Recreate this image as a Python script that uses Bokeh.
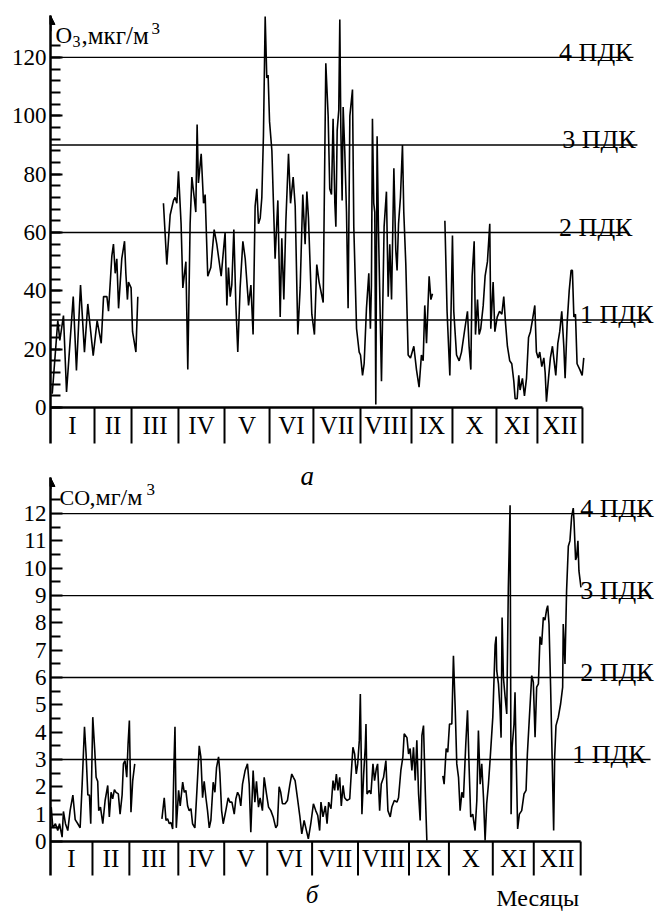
import math
from bokeh.plotting import figure
from bokeh.layouts import column
from bokeh.models import Range1d, FixedTicker, Arrow, NormalHead
from bokeh.core.properties import value
from bokeh.embed import file_html
from bokeh.resources import INLINE

NaN = float("nan")
FONT = "Liberation Serif"

# ---------------- data ----------------
months = ["I", "II", "III", "IV", "V", "VI", "VII", "VIII", "IX", "X", "XI", "XII"]
# month boundaries (day of year) as drawn under each panel
o3_month_edges = [0, 30.2, 55.6, 87.8, 119.4, 150.3, 180.4, 212.7, 247.7, 275.8, 306.0, 334.1, 365.0]
co_month_edges = [0, 28.9, 54.3, 88.0, 119.6, 149.2, 180.1, 211.7, 246.8, 274.3, 304.5, 332.7, 365.0]

pdk_labels = ["1 ПДК", "2 ПДК", "3 ПДК", "4 ПДК"]
o3_levels = [30, 60, 90, 120]
co_levels = [3, 6, 9, 12]

o3_ticks = [0, 20, 40, 60, 80, 100, 120]
o3_minor = [0, 4, 8, 12, 16, 20, 24, 28, 32, 36, 40, 44, 48, 52, 56, 60, 64, 68, 72, 76,
            80, 84, 88, 92, 96, 100, 104, 108, 112, 116, 120, 124]
co_ticks = [0, 1, 2, 3, 4, 5, 6, 7, 8, 9, 10, 11, 12]
co_minor = [0.5, 1.5, 2.5, 3.5, 4.5, 5.5, 6.5, 7.5, 8.5, 9.5, 10.5, 11.5, 12.5]

o3_day = [1.2, 5.0, 6.4, 8.9, 11.0, 15.6, 17.8, 20.6, 23.3, 25.6, 29.3, 32.0, 34.8, 36.4, 38.7,
          39.8, 42.1, 43.2, 44.4, 45.5, 46.7, 48.9, 50.8, 51.7, 52.8, 53.5, 55.3, 56.3, 58.6, 59.9,
          NaN,
          77.5, 79.8, 82.1, 84.4, 85.5, 86.7, 87.8, 89.6, 90.8, 92.9, 94.2, 95.8, 97.0, 98.6, 99.7,
          100.6, 101.5, 103.4, 105.0, 106.1, 107.9, 110.0, 112.3, 114.1, 117.1, 118.7, 119.8, 121.0,
          122.1, 123.3, 124.4, 125.8, 127.2, 128.5, 130.1, 132.0, 133.6, 135.9, 137.5, 139.0, 140.4,
          141.6, 142.7, 143.9, 145.0, 146.1, 147.3, 148.4, 149.3, 150.3, 151.9, 154.1, 156.0, 157.6,
          158.7, 160.1, 161.5, 163.3, 164.7, 166.5, 167.9, 169.7, 171.3, 173.1, 174.7, 175.9, 177.0,
          179.3, 181.1, 182.7, 184.3, 187.1, 188.9, 190.5, 191.6, 192.8, 193.9, 195.1, 195.8, 196.7,
          197.8, 198.5, 199.2, 200.1, 200.8, 201.9, 203.1, 204.2, 205.4, 207.2, 208.1, 210.0, 211.8,
          212.7, 214.1, 215.2, 216.8, 218.4, 219.5, 220.2, 220.9, 221.8, 222.5, 223.2, 224.1, 225.0,
          227.1, 228.9, 230.5, 231.7, 232.8, 234.0, 235.6, 236.9, 237.8, 238.8, 240.1, 241.5, 242.4,
          243.8, 245.4, 247.0, 249.3, 251.1, 252.9, 254.5, 255.7, 256.8, 258.0, 259.8, 261.0, 262.1,
          NaN,
          270.6, 272.1, 274.0, 275.8, 276.7, 278.6, 280.4, 282.0, 284.3, 286.1, 287.2, 288.4, 289.3,
          290.7, 291.6, 293.0, 294.1, 295.2, 296.9, 298.2, 299.8, 301.4, 302.1, 303.7, 304.9, 306.5,
          308.1, 309.7, 311.0, 312.2, 313.5, 315.1, 316.5, 317.9, 318.8, 320.2, 321.3, 322.2, 323.8,
          325.2, 326.6, 328.0, 329.3, 330.7, 332.3, 333.4, 334.6, 335.7, 337.1, 338.5, 339.4, 340.3,
          341.7, 343.0, 344.4, 345.3, 346.7, 348.1, 349.4, 350.8, 352.2, 353.1, 354.5, 355.9, 357.2,
          358.1, 359.1, 360.2, 361.3, 363.2, 364.8, 365.9]
o3_val = [4.7, 29.8, 23, 31.5, 5.3, 38, 12.7, 42, 19, 35.5, 17.8, 29.8, 22, 38, 38,
          33, 52, 56, 46, 51, 34, 51, 57, 46, 37, 43, 41, 26, 19, 38,
          NaN,
          70, 49, 66, 71, 72, 70, 81, 63, 41, 50, 13, 63, 79, 72, 67,
          97, 77, 87, 70, 73, 45, 48, 61, 56, 45, 54, 60, 35,
          48, 38, 42, 61, 35, 19, 41, 57, 51, 35, 42, 25, 69,
          75, 63, 65, 72, 93, 134, 113, 114, 98, 88, 51, 71, 31,
          58, 37, 64, 87, 70, 79, 69, 25, 41, 73, 56, 74, 65,
          32, 25, 49, 43, 36, 118, 100, 75, 73, 99, 70, 62, 95,
          102, 133, 96, 71, 103, 88, 67, 34, 100, 109, 62, 27, 19,
          18, 11, 15, 34, 46, 27, 42, 99, 70, 67, 1, 93, 62,
          9, 62, 74, 38, 56, 37, 82, 54, 47, 63, 72, 90, 67,
          49, 18, 17, 21, 13, 7, 18, 16, 35, 22, 45, 37, 39,
          NaN,
          64, 33, 11, 59, 33, 18, 16, 19, 27, 33, 21, 13, 45,
          57, 25, 37, 25, 27, 35, 45, 50, 63, 27, 43, 26, 31,
          33, 32, 38, 29, 21, 16, 15, 9, 3, 3, 11, 6, 10,
          4, 10, 24, 26, 30, 35, 19, 17, 19, 14, 17, 12, 2,
          10, 17, 21, 17, 11, 22, 26, 33, 21, 10, 29, 40, 47,
          47, 31, 32, 15, 13, 11, 17]

co_day = [0.5, 1.6, 3.4, 5.0, 6.2, 8.0, 8.9, 10.3, 11.9, 13.5, 15.4, 17.0, 18.8, 20.4, 21.8,
          23.4, 24.5, 25.7, 26.8, 27.7, 29.1, 30.5, 31.4, 32.5, 33.2, 34.4, 36.0, 37.6, 39.4, 40.5,
          41.7, 42.8, 44.0, 45.1, 46.7, 47.9, 49.3, 50.2, 51.3, 52.5, 53.4, 54.3, 55.4, 56.6, 58.0,
          NaN,
          76.7, 78.3, 79.5, 80.6, 81.8, 82.9, 84.1, 85.0, 85.7, 86.6, 88.2, 89.3, 91.0, 92.1, 93.2,
          94.4, 95.5, 96.7, 97.8, 99.4, 100.8, 102.4, 103.5, 104.7, 105.8, 107.0, 108.1, 109.3, 110.4,
          112.0, 113.2, 114.3, 115.7, 116.6, 117.8, 118.9, 120.7, 122.3, 123.5, 124.9, 126.5, 127.6,
          128.8, 129.9, 131.0, 132.2, 134.0, 135.6, 136.8, 137.9, 139.5, 140.7, 141.8, 143.2, 144.3,
          145.9, 147.1, 148.7, 150.1, 151.7, 153.3, 155.1, 156.2, 157.4, 158.5, 159.7, 161.5, 163.1,
          164.7, 166.1, 167.2, 168.4, 170.0, 171.6, 173.0, 174.6, 176.2, 177.5, 179.2, 181.0, 182.6,
          184.0, 185.3, 186.2, 187.6, 189.2, 190.4, 191.5, 193.1, 194.5, 195.6, 196.8, 197.9, 199.1,
          200.2, 201.4, 202.5, 204.1, 206.0, 206.9, 208.2, 209.4, 210.5, 211.5, 212.6, 213.3, 214.0,
          214.4, 215.6, 216.7, 217.2, 217.9, 219.5, 220.6, 222.0, 223.1, 224.3, 225.2, 226.6, 227.7,
          229.3, 230.9, 232.3, 233.9, 235.0, 236.7, 238.5, 239.6, 241.2, 242.6, 243.5, 245.4, 246.5,
          247.6, 248.8, 249.9, 251.1, 252.2, 253.4, 254.5, 255.7, 256.8, 258.0, 259.1,
          NaN,
          270.1, 271.0, 272.4, 273.5, 274.7, 276.3, 277.4, 278.6, 279.7, 280.9, 282.0, 283.2, 284.3,
          285.9, 287.1, 288.2, 289.3, 290.7, 292.3, 293.5, 294.6, 295.8, 296.9, 298.1, 299.2, 300.3,
          301.5, 302.6, 304.5, 306.1, 306.8, 307.2, 308.4, 309.5, 310.2, 310.9, 311.8, 313.0, 314.1,
          315.2, 316.4, 317.1, 317.8, 319.1, 319.8, 320.5, 321.6, 322.8, 324.4, 326.0, 327.4, 328.3,
          329.7, 331.3, 332.4, 333.6, 334.7, 335.9, 337.0, 338.1, 339.3, 340.4, 341.6, 342.3, 343.2,
          344.3, 345.5, 346.4, 347.1, 348.0, 349.6, 351.2, 352.6, 353.0, 354.2, 355.3, 356.5, 357.6,
          358.8, 359.9, 360.4, 361.5, 362.2, 363.1, 363.8, 365.2]
co_val = [1.26, 0.5, 0.65, 0.4, 0.65, 0.16, 1.1, 0.65, 0.4, 1.13, 1.7, 0.8, 0.65, 0.5, 2.1,
          4.2, 3.2, 1.7, 1.7, 0.65, 4.55, 3.3, 2.35, 2.2, 1.13, 1.26, 0.65, 1.5, 2.05, 0.9,
          1.8, 1.56, 1.9, 1.8, 1.74, 1.0, 1.7, 2.84, 2.96, 2.35, 3.57, 4.43, 1.07, 2.23, 2.84,
          NaN,
          0.83, 1.6, 0.77, 0.83, 0.65, 0.7, 0.46, 2.84, 4.2, 0.5, 1.87, 1.3, 2.17, 1.8, 1.87,
          1.3, 1.13, 1.2, 0.65, 0.5, 1.87, 3.5, 3.1, 1.6, 2.2, 1.6, 1.13, 0.5, 0.77,
          2.17, 1.8, 2.7, 3.1, 2.5, 1.13, 0.65, 1.13, 1.6, 1.44, 1.44, 1.0, 1.56,
          1.8, 1.68, 1.3, 2.1, 2.6, 2.84, 2.1, 0.34, 2.6, 1.44, 2.2, 1.26, 1.6,
          1.13, 2.35, 1.74, 1.26, 1.13, 0.9, 0.5, 0.6, 2.0, 1.8, 1.38, 1.38, 1.5,
          2.05, 2.47, 2.35, 2.23, 1.6, 0.95, 0.28, 0.77, 0.4, 0.1, 0.65, 1.38, 1.13,
          0.95, 0.4, 1.44, 0.9, 1.3, 0.65, 1.44, 1.2, 2.23, 1.87, 2.47, 1.87, 2.35,
          1.3, 2.05, 1.6, 1.5, 1.56, 2.35, 3.45, 3.2, 2.47, 2.84, 3.7, 5.4, 2.84,
          1.0, 2.47, 3.45, 4.3, 1.74, 1.87, 1.74, 2.84, 2.23, 2.66, 2.84, 1.13, 2.1,
          2.35, 2.96, 1.13, 0.9, 1.26, 1.5, 1.44, 1.6, 2.6, 3.1, 3.94, 3.8, 3.2,
          3.4, 2.6, 3.45, 2.23, 3.7, 1.74, 0.77, 3.88, 4.24, 1.87, 0.04,
          NaN,
          2.4, 2.1, 3.4, 3.27, 4.3, 4.3, 6.8, 4.9, 2.84, 2.35, 1.13, 1.8, 1.6,
          3.57, 4.8, 2.7, 0.9, 1.0, 0.4, 1.5, 4.06, 2.1, 2.84, 1.6, 0.04, 1.38,
          2.1, 2.96, 4.55, 7.2, 7.5, 6.26, 5.77, 4.8, 3.8, 8.2, 6.0, 5.28, 4.67,
          9.3, 12.3, 1.0, 3.45, 4.3, 5.46, 3.33, 0.46, 1.0, 1.13, 1.74, 1.87, 3.2,
          4.55, 6.07, 5.83, 3.82, 5.65, 5.77, 7.5, 7.2, 8.2, 8.1, 8.5, 8.63, 7.96,
          5.65, 2.7, 0.4, 3.1, 4.24, 4.55, 5.04, 5.65, 7.96, 6.5, 9.18, 10.8, 11.0,
          11.9, 12.2, 11.75, 10.3, 10.4, 11.0, 9.9, 9.3]

# ---------------- layout constants ----------------
o3_line_end = [409.6, 396.6, 402.7, 400.0]
o3_label_x = [413.7, 399.3, 401.4, 399.3]
co_line_end = [413.1, 413.1, 413.1, 413.1]
co_label_x = [409.7, 415.2, 415.2, 415.2]


def style_panel(p, ticks, minor, bounds):
    p.xaxis.visible = False
    p.grid.visible = False
    p.outline_line_color = None
    p.background_fill_color = "white"
    p.border_fill_color = "white"
    ya = p.yaxis[0]
    ya.ticker = FixedTicker(ticks=ticks, minor_ticks=minor)
    ya.bounds = bounds
    ya.axis_line_width = 2.5
    ya.axis_line_color = "black"
    ya.major_tick_in = 12
    ya.major_tick_out = 0
    ya.minor_tick_in = 10
    ya.minor_tick_out = 0
    ya.major_tick_line_width = 2
    ya.minor_tick_line_width = 2
    ya.major_tick_line_color = "black"
    ya.minor_tick_line_color = "black"
    ya.major_label_standoff = 4
    ya.major_label_text_font = FONT
    ya.major_label_text_font_size = "23px"
    ya.major_label_text_color = "black"


def add_common(p, day, val, edges, levels, line_end, label_x, y_low, label_y, lab_off):
    zeros = [0] * len(levels)
    p.segment(x0=zeros, y0=levels, x1=line_end, y1=levels, line_color="black", line_width=1.3)
    p.line(day, val, line_color="black", line_width=1.6)
    # x axis line and month separators
    p.segment(x0=[edges[0]], y0=[0], x1=[edges[-1]], y1=[0], line_color="black", line_width=2.5)
    p.segment(x0=edges[1:], y0=[0] * 12, x1=edges[1:], y1=[y_low] * 12, line_color="black", line_width=2)
    centers = [(edges[i] + edges[i + 1]) / 2 for i in range(12)]
    p.text(x=centers, y=[label_y] * 12, text=months, text_align="center", text_baseline="middle",
           text_font=value(FONT), text_font_size="25px", text_color="black")
    p.text(x=label_x, y=levels, text=pdk_labels, text_align="right", text_baseline="alphabetic",
           y_offset=lab_off, text_font=value(FONT), text_font_size="26px", text_color="black")


# ---------------- top panel: O3 ----------------
p1 = figure(width=656, height=450, x_range=Range1d(0, 415.8), y_range=Range1d(-14.74, 139.53),
            output_backend="svg", toolbar_location=None,
            min_border_left=50, min_border_right=0, min_border_top=0, min_border_bottom=0)
style_panel(p1, o3_ticks, o3_minor, (-12.34, 134.4))
add_common(p1, o3_day, o3_val, o3_month_edges, o3_levels, o3_line_end, o3_label_x, -12.34, -6.3, -5)
p1.add_layout(Arrow(end=NormalHead(size=9, fill_color="black", line_color="black"),
                    x_start=0, y_start=129, x_end=0, y_end=134.4, line_width=2))
ty = 127.5
p1.text(x=[0], y=[ty], text=["O"], x_offset=5, text_baseline="alphabetic",
        text_font=value(FONT), text_font_size="23px", text_color="black")
p1.text(x=[0], y=[ty], text=["3"], x_offset=22, y_offset=6, text_baseline="alphabetic",
        text_font=value(FONT), text_font_size="16px", text_color="black")
p1.text(x=[0], y=[ty], text=[",мкг/м"], x_offset=31, text_baseline="alphabetic",
        text_font=value(FONT), text_font_size="25px", text_color="black")
p1.text(x=[0], y=[ty], text=["3"], x_offset=101, y_offset=-7, text_baseline="alphabetic",
        text_font=value(FONT), text_font_size="17px", text_color="black")

# ---------------- bottom panel: CO ----------------
p2 = figure(width=656, height=462, x_range=Range1d(0, 417.2), y_range=Range1d(-2.598, 14.307),
            output_backend="svg", toolbar_location=None,
            min_border_left=49, min_border_right=0, min_border_top=0, min_border_bottom=0)
style_panel(p2, co_ticks, co_minor, (-1.244, 13.32))
add_common(p2, co_day, co_val, co_month_edges, co_levels, co_line_end, co_label_x, -1.244, -0.62, -5)
p2.add_layout(Arrow(end=NormalHead(size=9, fill_color="black", line_color="black"),
                    x_start=0, y_start=12.9, x_end=0, y_end=13.32, line_width=2))
by = 12.59
p2.text(x=[0], y=[by], text=["CO"], x_offset=9, text_baseline="alphabetic",
        text_font=value(FONT), text_font_size="22px", text_color="black")
p2.text(x=[0], y=[by], text=[",мг/м"], x_offset=39, text_baseline="alphabetic",
        text_font=value(FONT), text_font_size="24px", text_color="black")
p2.text(x=[0], y=[by], text=["3"], x_offset=96, y_offset=-8, text_baseline="alphabetic",
        text_font=value(FONT), text_font_size="17px", text_color="black")
# panel letter of the upper chart (sits just under the upper month row)
p2.text(x=[176.7], y=[13.39], text=["а"], text_align="center", text_baseline="alphabetic",
        text_font=value(FONT), text_font_style="italic", text_font_size="27px", text_color="black")
p2.text(x=[335.4], y=[-2.05], text=["Месяцы"], text_align="center", text_baseline="alphabetic",
        text_font=value(FONT), text_font_size="24px", text_color="black")
p2.text(x=[180.1], y=[-1.95], text=["б"], text_align="center", text_baseline="alphabetic",
        text_font=value(FONT), text_font_style="italic", text_font_size="25px", text_color="black")

layout = column(p1, p2, spacing=0)
open("out.html", "w").write(file_html(layout, INLINE))
